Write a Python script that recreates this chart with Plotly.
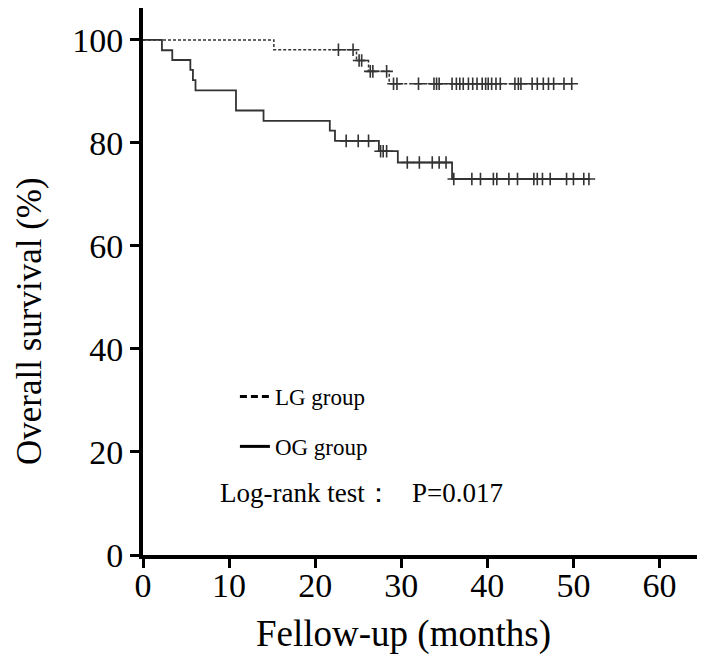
import plotly.graph_objects as go

# ---------------- data ----------------
# Kaplan-Meier step points: time (months) and survival (%) after each drop
lg_times = [0, 15.2, 24.8, 26.2, 28.6, 50.0]
lg_surv = [100, 98.1, 96.0, 93.9, 91.5, 91.5]
lg_censor = [22.7, 24.4, 25.1, 25.4, 26.4, 26.7, 28.3, 29.1, 29.5, 32.0, 33.8, 34.1,
             34.4, 35.9, 36.4, 36.8, 37.2, 37.8, 38.3, 38.8, 39.4, 39.8, 40.1, 40.5,
             41.0, 41.5, 43.2, 43.6, 43.9, 45.2, 45.8, 46.5, 47.1, 47.7, 48.9, 49.8]

og_times = [0, 2.2, 3.4, 5.5, 5.8, 6.1, 10.8, 14.0, 21.7, 22.3, 27.4, 29.6, 35.9, 51.9]
og_surv = [100, 98.0, 96.1, 94.2, 92.2, 90.2, 86.3, 84.3, 82.4, 80.4, 78.4, 76.2, 73.0, 73.0]
og_censor = [23.6, 25.0, 26.2, 27.6, 27.9, 28.3, 30.7, 32.1, 33.6, 34.4, 35.2, 36.1,
             38.2, 39.2, 40.7, 41.1, 42.5, 43.5, 45.4, 45.8, 46.4, 47.3, 49.2, 50.0,
             51.2, 51.8]

x_ticks = [0, 10, 20, 30, 40, 50, 60]
y_ticks = [0, 20, 40, 60, 80, 100]
group_names = ["LG group", "OG group"]
test_text = "Log-rank test：   P=0.017"


def step_value(times, surv, t):
    v = surv[0]
    for ti, si in zip(times, surv):
        if ti <= t:
            v = si
    return v


FONT = "Liberation Serif, Times New Roman, serif"
LINE_C = "#333333"

fig = go.Figure()

# LG (dashed)
fig.add_trace(go.Scatter(x=lg_times, y=lg_surv, mode="lines", line_shape="hv",
                         line=dict(color=LINE_C, width=1.5, dash="3px,2px"),
                         showlegend=False, hoverinfo="skip"))
fig.add_trace(go.Scatter(x=lg_censor, y=[step_value(lg_times, lg_surv, t) for t in lg_censor],
                         mode="markers", showlegend=False,
                         marker=dict(symbol="cross-thin", size=9, line=dict(color=LINE_C, width=1.6))))

# OG (solid)
fig.add_trace(go.Scatter(x=og_times, y=og_surv, mode="lines", line_shape="hv",
                         line=dict(color=LINE_C, width=1.8),
                         showlegend=False, hoverinfo="skip"))
fig.add_trace(go.Scatter(x=og_censor, y=[step_value(og_times, og_surv, t) for t in og_censor],
                         mode="markers", showlegend=False,
                         marker=dict(symbol="cross-thin", size=9, line=dict(color=LINE_C, width=1.6))))

# legend-only entries (thicker sample lines like the reference)
fig.add_trace(go.Scatter(x=[None], y=[None], mode="lines", name=group_names[0],
                         legendgroup="a",
                         line=dict(color="black", width=3, dash="7px,4px")))
fig.add_trace(go.Scatter(x=[None], y=[None], mode="lines", name=group_names[1],
                         legendgroup="b",
                         line=dict(color="black", width=3)))

fig.add_annotation(text=test_text, xref="x", yref="y", x=8.7, y=12.0, xanchor="left",
                   yanchor="middle", showarrow=False,
                   font=dict(family=FONT, size=27, color="black"))

# axis titles as annotations (positioned like the reference)
fig.add_annotation(text="Fellow-up (months)", xref="x", yref="paper", x=30.3, y=-0.145,
                   xanchor="center", yanchor="middle", showarrow=False,
                   font=dict(family=FONT, size=37, color="black"))
fig.add_annotation(text="Overall survival (%)", xref="paper", yref="y", x=-0.204, y=45.5,
                   xanchor="center", yanchor="middle", showarrow=False, textangle=-90,
                   font=dict(family=FONT, size=35, color="black"))

# the page body adds an 8px offset, so the figure is sized to fit the window
fig.update_layout(
    width=697, height=662,
    margin=dict(l=135, r=5, t=0, b=115),
    paper_bgcolor="white", plot_bgcolor="white",
    font=dict(family=FONT, color="black"),
    legend=dict(x=0.165, y=0.329, xanchor="left", yanchor="top",
                bgcolor="rgba(0,0,0,0)", font=dict(family=FONT, size=23, color="black"),
                itemwidth=30, tracegroupgap=17),
    xaxis=dict(range=[0, 64.7], tickvals=x_ticks, ticktext=[str(v) for v in x_ticks],
               showgrid=False, zeroline=False, showline=True, linecolor="black", linewidth=4,
               ticks="outside", ticklen=9, tickwidth=3, tickcolor="black",
               ticklabelstandoff=-12,
               tickfont=dict(family=FONT, size=34, color="black")),
    yaxis=dict(range=[0, 106.2], tickvals=y_ticks, ticktext=[str(v) for v in y_ticks],
               showgrid=False, zeroline=False, showline=True, linecolor="black", linewidth=4,
               ticks="outside", ticklen=9, tickwidth=3, tickcolor="black",
               tickfont=dict(family=FONT, size=34, color="black")),
)

fig.write_html("out.html")
